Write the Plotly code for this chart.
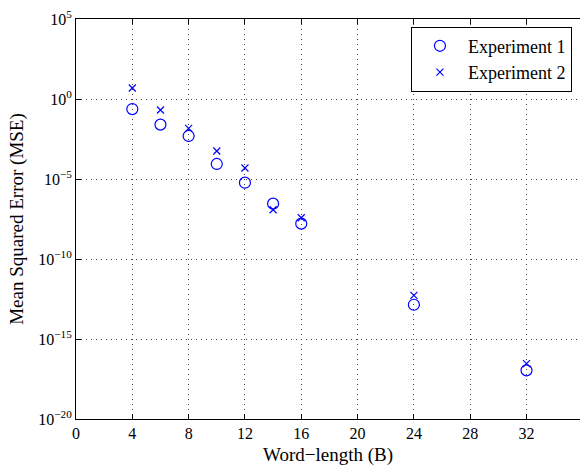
import plotly.graph_objects as go

word_length = [4, 6, 8, 10, 12, 14, 16, 24, 32]
exp1_log = [-0.63, -1.6, -2.31, -4.06, -5.23, -6.54, -7.79, -12.86, -16.96]
exp2_log = [0.69, -0.69, -1.84, -3.25, -4.31, -6.92, -7.42, -12.27, -16.54]
exp1 = [10 ** v for v in exp1_log]
exp2 = [10 ** v for v in exp2_log]

x_ticks = [0, 4, 8, 12, 16, 20, 24, 28, 32]
y_tick_exp = [5, 0, -5, -10, -15, -20]
y_tick_vals = [10.0 ** e for e in y_tick_exp]
y_tick_text = ["10<sup>%s</sup>" % (str(e).replace("-", "\u2212")) for e in y_tick_exp]

fam = "Liberation Serif, Times New Roman, serif"
tick_font = dict(family=fam, size=16, color="black")
title_font = dict(family=fam, size=19, color="black")

fig = go.Figure()
fig.add_trace(go.Scatter(
    x=word_length, y=exp1, mode="markers", name="Experiment 1",
    marker=dict(symbol="circle-open", size=11, color="#0000ff", line=dict(width=1.2, color="#0000ff")),
))
fig.add_trace(go.Scatter(
    x=word_length, y=exp2, mode="markers", name="Experiment 2",
    marker=dict(symbol="x-thin-open", size=7, color="#0000ff", line=dict(width=1.2, color="#0000ff")),
))

fig.update_layout(
    width=580, height=473,
    margin=dict(l=76, r=0, t=19, b=54),
    paper_bgcolor="white", plot_bgcolor="white",
    font=tick_font,
    showlegend=True,
    legend=dict(
        x=0.984, y=0.981, xanchor="right", yanchor="top",
        bordercolor="black", borderwidth=1, bgcolor="white",
        font=dict(family=fam, size=18, color="black"),
        itemwidth=46, tracegroupgap=0,
    ),
    xaxis=dict(
        range=[0, 35.8], tickvals=x_ticks, ticktext=[str(v) for v in x_ticks],
        showline=True, linecolor="black", linewidth=1, mirror="ticks",
        ticks="inside", ticklen=5, tickcolor="black",
        showgrid=True, gridcolor="#444444", gridwidth=1, griddash="1px,4px",
        zeroline=False,
        title=dict(text="Word\u2212length (B)", font=title_font, standoff=6),
        tickfont=tick_font,
    ),
    yaxis=dict(
        type="log", range=[-20, 5], tickvals=y_tick_vals, ticktext=y_tick_text,
        showline=True, linecolor="black", linewidth=1, mirror=False,
        ticks="inside", ticklen=5, tickcolor="black",
        showgrid=True, gridcolor="#444444", gridwidth=1, griddash="1px,4px",
        zeroline=False,
        title=dict(text="Mean Squared Error (MSE)", font=title_font, standoff=9),
        tickfont=tick_font,
    ),
)

fig.write_html("out.html")
